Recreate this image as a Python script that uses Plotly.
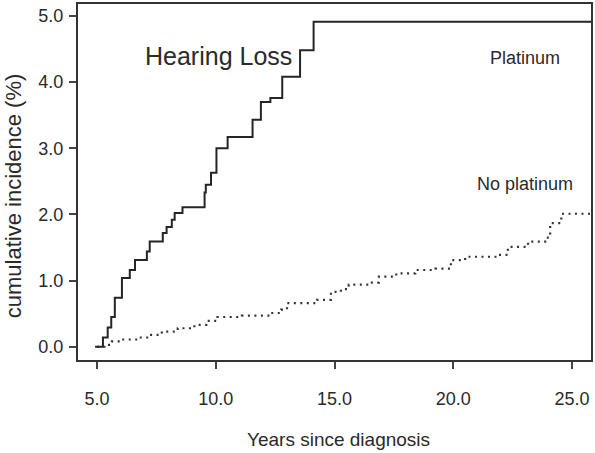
import plotly.graph_objects as go

# Platinum group (solid step curve)
plat_years = [4.92, 5.25, 5.45, 5.6, 5.75, 6.05, 6.38, 6.6, 7.1, 7.22, 7.77, 7.93, 8.15, 8.27, 8.6,
              9.53, 9.58, 9.8, 10.03, 10.5, 11.55, 11.9, 12.3, 12.8, 13.55, 14.12, 25.8]
plat_inc = [0.0, 0.14, 0.29, 0.45, 0.74, 1.04, 1.16, 1.31, 1.44, 1.59, 1.72, 1.81, 1.92, 2.02, 2.11,
            2.33, 2.45, 2.63, 3.0, 3.17, 3.43, 3.7, 3.76, 4.08, 4.48, 4.91, 4.91]

# No platinum group (dotted step curve)
noplat_years = [5.0, 5.42, 5.63, 6.0, 6.72, 7.2, 7.73, 8.4, 9.1, 9.6, 10.07, 11.1, 12.3, 12.75, 13.0,
                14.27, 14.85, 15.27, 15.6, 16.45, 16.87, 17.6, 18.4, 19.25, 19.9, 20.5, 21.9, 22.3,
                23.15, 23.87, 24.08, 24.55, 25.8]
noplat_inc = [0.0, 0.03, 0.08, 0.11, 0.14, 0.18, 0.23, 0.28, 0.33, 0.39, 0.45, 0.47, 0.51, 0.56, 0.66,
              0.71, 0.83, 0.87, 0.94, 0.97, 1.06, 1.11, 1.16, 1.18, 1.31, 1.36, 1.39, 1.51,
              1.59, 1.65, 1.87, 2.01, 2.01]

x_ticks = [5, 10, 15, 20, 25]
x_tick_labels = ["5.0", "10.0", "15.0", "20.0", "25.0"]
y_ticks = [0, 1, 2, 3, 4, 5]
y_tick_labels = ["0.0", "1.0", "2.0", "3.0", "4.0", "5.0"]

FONT = "Liberation Sans, Arial, sans-serif"
W, H = 595, 453
L, R, T, B = 78, 2, 4, 93
ph = H - T - B

def py(p):
    return (H - B - p) / ph

def px(p):
    return (p - L) / (W - L - R)

fig = go.Figure()
fig.add_trace(go.Scatter(x=noplat_years, y=noplat_inc, mode="lines", line_shape="hv",
                         line=dict(color="#333333", width=2.2, dash="2px,4.5px"),
                         showlegend=False, hoverinfo="skip"))
fig.add_trace(go.Scatter(x=plat_years, y=plat_inc, mode="lines", line_shape="hv",
                         line=dict(color="#252525", width=2),
                         showlegend=False, hoverinfo="skip"))

axis_common = dict(showline=True, linecolor="#333333", linewidth=2, mirror=True,
                   ticks="outside", tickcolor="#444444", tickwidth=1.5, ticklen=7,
                   showgrid=False, zeroline=False,
                   tickfont=dict(family=FONT, size=18, color="#2a2a2a"))

fig.update_xaxes(range=[4.2, 25.8], tickvals=x_ticks, ticktext=x_tick_labels,
                 ticklabelstandoff=14, **axis_common)
fig.update_yaxes(range=[-0.2, 5.18], tickvals=y_ticks, ticktext=y_tick_labels,
                 ticklabelstandoff=2, **axis_common)

ann = [
    dict(text="Hearing Loss", x=px(219), y=py(56), font=dict(size=25)),
    dict(text="Platinum", x=px(527), y=py(58), font=dict(size=18)),
    dict(text="No platinum", x=px(527), y=py(184), font=dict(size=18)),
    dict(text="Years since diagnosis", x=px(340), y=py(439), font=dict(size=19)),
    dict(text="cumulative incidence (%)", x=px(13), y=py(196), font=dict(size=22), textangle=-90),
]
for a in ann:
    a["font"].update(family=FONT, color="#2a2a2a")
    fig.add_annotation(xref="paper", yref="paper", xanchor="center", yanchor="middle",
                       showarrow=False, **a)

fig.update_layout(width=W, height=H, margin=dict(l=L, r=R, t=T, b=B),
                  paper_bgcolor="white", plot_bgcolor="white")

fig.write_html("out.html")
